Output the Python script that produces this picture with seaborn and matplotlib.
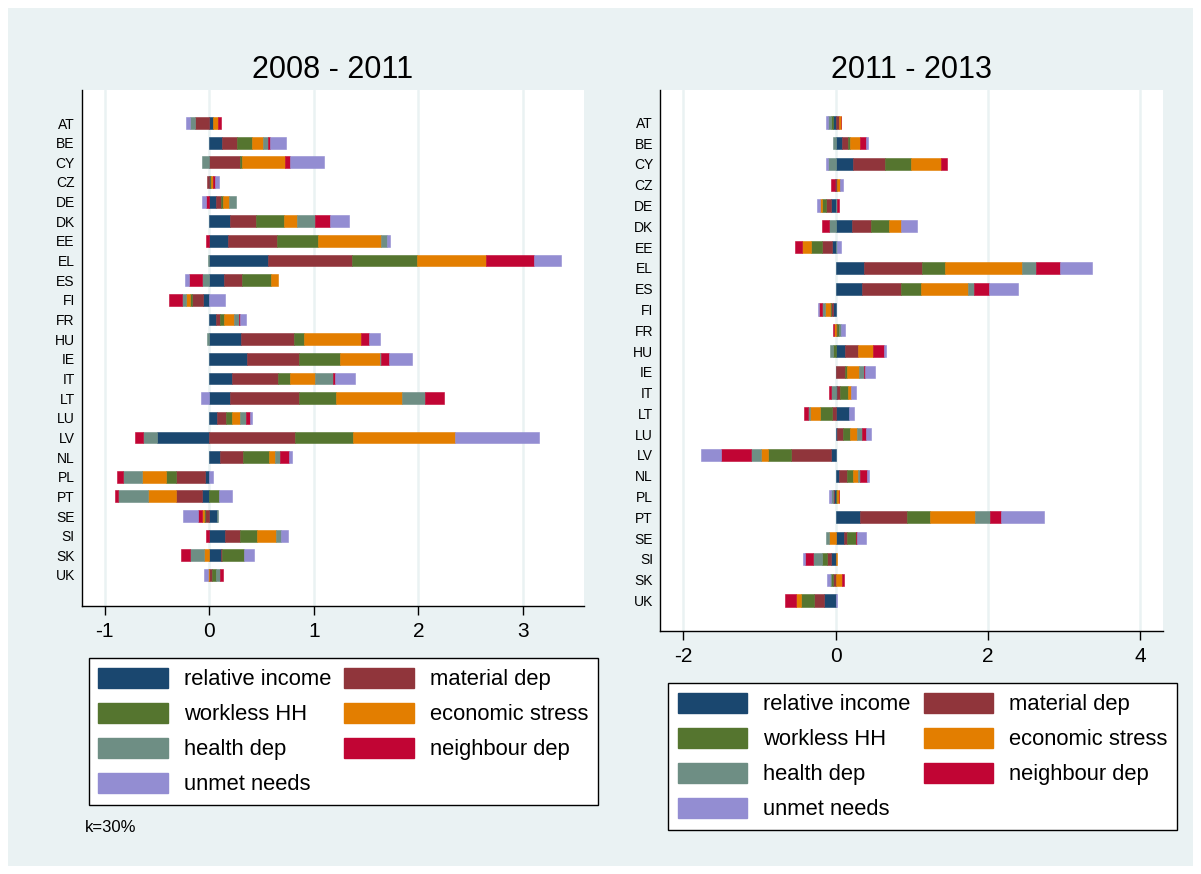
import numpy as np
import matplotlib
matplotlib.use("Agg")
import matplotlib.pyplot as plt
from matplotlib.patches import Patch, Rectangle
import seaborn as sns

W, H = 1201, 874

countries = ["AT", "BE", "CY", "CZ", "DE", "DK", "EE", "EL", "ES", "FI", "FR", "HU",
             "IE", "IT", "LT", "LU", "LV", "NL", "PL", "PT", "SE", "SI", "SK", "UK"]
series_names = ["relative income", "material dep", "workless HH", "economic stress",
                "health dep", "neighbour dep", "unmet needs"]
colors = ["#1A476F", "#90353B", "#55752F", "#E37E00", "#6E8E84", "#C10534", "#938DD2"]

# ---- 2008 - 2011 ----
inc_0811 = [0.04, 0.12, 0.0, 0.01, 0.065, 0.2, 0.18, 0.564, 0.14, -0.06, 0.065, 0.305,
            0.365, 0.215, 0.195, 0.07, -0.5, 0.1, -0.04, -0.067, 0.07, 0.155, 0.115, 0.0]
mat_0811 = [-0.14, 0.15, 0.29, -0.02, 0.045, 0.245, 0.47, 0.80, 0.17, -0.11, 0.04, 0.51,
            0.49, 0.445, 0.665, 0.093, 0.82, 0.225, -0.275, -0.25, -0.04, 0.14, 0.005, 0.03]
wk_0811 = [0.0, 0.14, 0.02, 0.01, 0.02, 0.27, 0.39, 0.626, 0.285, -0.015, 0.035, 0.096,
           0.40, 0.11, 0.35, 0.05, 0.56, 0.245, -0.1, 0.093, -0.013, 0.165, 0.215, 0.035]
str_0811 = [0.04, 0.105, 0.41, 0.015, 0.06, 0.125, 0.6, 0.66, 0.065, -0.04, 0.10, 0.54,
            0.38, 0.245, 0.635, 0.083, 0.975, 0.06, -0.225, -0.27, -0.013, 0.175, -0.05, -0.015]
hl_0811 = [-0.04, 0.05, -0.07, 0.0, 0.065, 0.175, 0.06, -0.015, -0.065, -0.04, 0.045, -0.02,
           0.01, 0.165, 0.22, 0.06, -0.13, 0.045, -0.185, -0.285, 0.013, 0.055, -0.13, 0.04]
nb_0811 = [0.03, 0.02, 0.055, 0.02, -0.03, 0.14, -0.03, 0.46, -0.13, -0.12, 0.01, 0.077,
           0.077, 0.02, 0.18, 0.035, -0.083, 0.087, -0.06, -0.03, -0.04, -0.03, -0.093, 0.03]
un_0811 = [-0.045, 0.15, 0.32, 0.04, -0.04, 0.18, 0.03, 0.26, -0.04, 0.15, 0.06, 0.11,
           0.22, 0.195, -0.08, 0.02, 0.80, 0.03, 0.035, 0.12, -0.145, 0.06, 0.09, -0.04]

# ---- 2011 - 2013 ----
inc_1113 = [-0.035, 0.09, 0.224, -0.01, -0.06, 0.215, -0.044, 0.373, 0.35, -0.03, 0.0, 0.123,
            0.005, 0.026, 0.175, 0.022, -0.053, 0.048, -0.015, 0.324, 0.118, -0.061, 0.0, -0.149]
mat_1113 = [0.04, 0.07, 0.425, 0.015, -0.06, 0.254, -0.13, 0.768, 0.517, -0.026, 0.022, 0.175,
            0.123, 0.03, -0.044, 0.07, -0.534, 0.105, -0.015, 0.621, 0.035, -0.048, -0.03, -0.131]
wk_1113 = [-0.03, 0.035, 0.346, 0.01, -0.06, 0.232, -0.145, 0.293, 0.259, -0.02, 0.018, -0.03,
           0.026, 0.11, -0.158, 0.096, -0.302, 0.083, 0.02, 0.298, 0.11, -0.066, -0.026, -0.171]
str_1113 = [0.035, 0.13, 0.39, 0.035, -0.026, 0.162, -0.127, 1.022, 0.614, -0.057, -0.015, 0.193,
            0.158, 0.044, -0.136, 0.096, -0.088, 0.057, 0.028, 0.586, -0.083, 0.022, 0.088, -0.066]
hl_1113 = [-0.035, -0.035, -0.105, 0.0, 0.015, -0.08, 0.02, 0.184, 0.083, -0.04, 0.026, -0.04,
           0.066, -0.06, -0.018, 0.06, -0.127, 0.03, -0.03, 0.197, -0.048, -0.127, -0.022, 0.0]
nb_1113 = [0.0, 0.075, 0.08, -0.044, 0.025, -0.096, -0.088, 0.316, 0.197, -0.04, -0.022, 0.145,
           0.013, -0.022, -0.06, 0.053, -0.407, 0.092, 0.0, 0.153, 0.022, -0.1, 0.022, -0.149]
un_1113 = [-0.026, 0.026, -0.015, 0.04, -0.035, 0.206, 0.05, 0.42, 0.377, -0.022, 0.053, 0.022,
           0.123, 0.06, 0.07, 0.066, -0.258, 0.026, -0.026, 0.56, 0.11, -0.022, -0.035, 0.022]

data_0811 = [inc_0811, mat_0811, wk_0811, str_0811, hl_0811, nb_0811, un_0811]
data_1113 = [inc_1113, mat_1113, wk_1113, str_1113, hl_1113, nb_1113, un_1113]

BG = "#EAF2F3"
sns.set_theme(style="white", rc={
    "axes.edgecolor": "black",
    "axes.linewidth": 1.0,
    "xtick.color": "black",
    "ytick.color": "black",
    "text.color": "black",
    "axes.labelcolor": "black",
})
plt.rcParams["font.family"] = ["Liberation Sans", "DejaVu Sans"]

fig = plt.figure(figsize=(W / 100, H / 100), dpi=100, facecolor="white")
fig.patches.append(Rectangle((8 / W, 8 / H), (W - 16) / W, (H - 16) / H,
                             transform=fig.transFigure, facecolor=BG,
                             edgecolor="none", zorder=-10))


def px_axes(x0, x1, y0, y1):
    return fig.add_axes([x0 / W, 1 - y1 / H, (x1 - x0) / W, (y1 - y0) / H])


def draw_panel(ax, data, xlim, ylim, ticks, bar_h):
    n = len(countries)
    y = np.arange(n)
    pos = np.zeros(n)
    neg = np.zeros(n)
    for vals, col in zip(data, colors):
        v = np.array(vals, dtype=float)
        left = np.where(v >= 0, pos, neg)
        ax.barh(y, v, left=left, height=bar_h, color=col, edgecolor=col,
                linewidth=0.4, zorder=3)
        pos += np.clip(v, 0, None)
        neg += np.clip(v, None, 0)
    ax.set_facecolor("white")
    ax.set_xlim(*xlim)
    ax.set_ylim(*ylim)
    ax.set_xticks(ticks)
    ax.set_xticklabels([str(t) for t in ticks])
    ax.set_yticks(y)
    ax.set_yticklabels(countries)
    ax.xaxis.grid(True, color=BG, linewidth=1.8, zorder=0)
    ax.yaxis.grid(False)
    ax.set_axisbelow(True)
    for s in ["top", "right"]:
        ax.spines[s].set_visible(False)
    ax.tick_params(axis="x", length=6.5, width=1, labelsize=15, pad=5, bottom=True)
    ax.tick_params(axis="y", length=0, labelsize=10, pad=5)

    handles = [Patch(facecolor=c, edgecolor=c) for c in colors]
    order = [0, 2, 4, 6, 1, 3, 5]
    return [handles[i] for i in order], [series_names[i] for i in order]


def add_legend(ax, h, l, x, y):
    leg = ax.legend(h, l, ncol=2, loc="upper left", bbox_to_anchor=(x / W, 1 - y / H),
                    bbox_transform=fig.transFigure, fontsize=15.8, frameon=True,
                    fancybox=False, edgecolor="black", framealpha=1,
                    handlelength=3.17, handleheight=1.04, handletextpad=0.73,
                    columnspacing=0.58, borderpad=0.45, labelspacing=0.56,
                    borderaxespad=0)
    leg.get_frame().set_linewidth(1.0)
    for t in leg.get_texts():
        t.set_color("black")


ax1 = px_axes(81.7, 584, 90, 606)
h, l = draw_panel(ax1, data_0811, (-1.221, 3.586), (24.58, -1.68), [-1, 0, 1, 2, 3], 0.6)
add_legend(ax1, h, l, 88.6, 658)

ax2 = px_axes(660, 1163, 90, 631)
h, l = draw_panel(ax2, data_1113, (-2.306, 4.303), (24.47, -1.56), [-2, 0, 2, 4], 0.59)
add_legend(ax2, h, l, 668, 683)

fig.text(332.5 / W, 1 - 70 / H, "2008 - 2011", fontsize=22, ha="center", va="center")
fig.text(911.5 / W, 1 - 70 / H, "2011 - 2013", fontsize=22, ha="center", va="center")
fig.text(85 / W, 1 - 828 / H, "k=30%", fontsize=12, ha="left", va="center")

fig.savefig("out.png", dpi=100, facecolor="white")
